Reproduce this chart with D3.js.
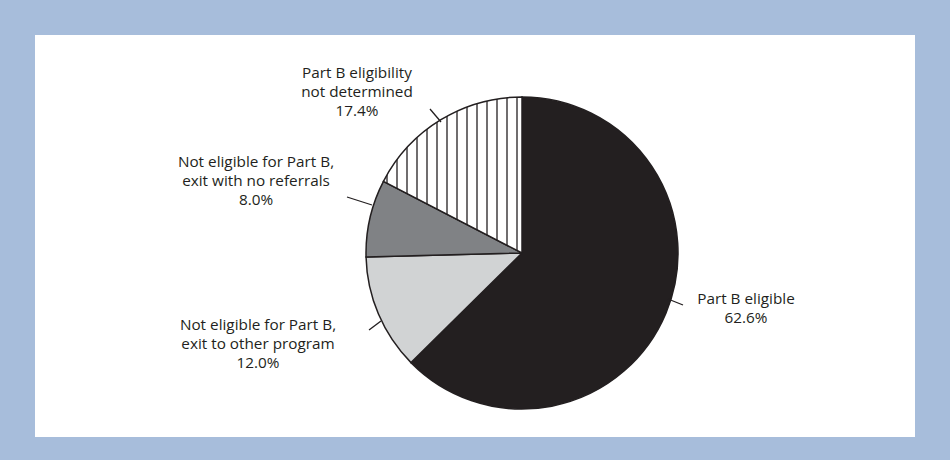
<!DOCTYPE html>
<html><head><meta charset="utf-8">
<script src="https://cdn.jsdelivr.net/npm/d3@7"></script>
<style>body{margin:0;background:#fff}</style>
</head><body>
<svg id="chart" width="950" height="460"></svg>
<script>
var categories = ["Part B eligible", "Not eligible for Part B, exit to other program", "Not eligible for Part B, exit with no referrals", "Part B eligibility not determined"];
var values = [62.6, 12.0, 8.0, 17.4];
var labels = [
  ["Part B eligible", "62.6%"],
  ["Not eligible for Part B,", "exit to other program", "12.0%"],
  ["Not eligible for Part B,", "exit with no referrals", "8.0%"],
  ["Part B eligibility", "not determined", "17.4%"]
];
var fills = ["#231f20", "#d1d3d4", "#808285", "url(#stripes)"];

var svg = d3.select("#chart");
svg.append("rect").attr("width", 950).attr("height", 460).attr("fill", "#a7bddb");
svg.append("rect").attr("x", 35).attr("y", 35).attr("width", 880).attr("height", 402).attr("fill", "#fff");

var defs = svg.append("defs");
var pat = defs.append("pattern").attr("id", "stripes").attr("patternUnits", "userSpaceOnUse")
  .attr("width", 10).attr("height", 10);
pat.append("rect").attr("width", 10).attr("height", 10).attr("fill", "#fff");
pat.append("line").attr("x1", 5).attr("x2", 5).attr("y1", 0).attr("y2", 10).attr("stroke", "#231f20").attr("stroke-width", 1.3);

var cx = 522, cy = 253, r = 156;
var pie = d3.pie().sort(null).value(d => d);
var arc = d3.arc().innerRadius(0).outerRadius(r);
var arcs = pie(values);
var g = svg.append("g").attr("transform", "translate(" + cx + "," + cy + ")");
g.selectAll("path").data(arcs).enter().append("path")
  .attr("d", arc).attr("fill", (d, i) => fills[i])
  .attr("stroke", "#231f20").attr("stroke-width", 1.5);

// label positions (anchor point) and leader lines
var lab = [
  {x: 746, y: 304, lines: [[683, 305], [668, 299]]},
  {x: 258, y: 330, lines: [[369, 330], [381, 321]]},
  {x: 256, y: 167, lines: [[347, 197], [372, 205]]},
  {x: 357, y: 78, lines: [[430, 109], [441, 122]]}
];
var fs = 15.3, lh = 19;
lab.forEach(function(l, i) {
  var t = svg.append("text").attr("text-anchor", "middle")
    .attr("font-family", "Open Sans, sans-serif").attr("font-size", fs).attr("fill", "#231f20");
  labels[i].forEach(function(s, k) {
    t.append("tspan").attr("x", l.x).attr("y", l.y + k * lh).text(s);
  });
  svg.append("line").attr("x1", l.lines[0][0]).attr("y1", l.lines[0][1])
    .attr("x2", l.lines[1][0]).attr("y2", l.lines[1][1])
    .attr("stroke", "#231f20").attr("stroke-width", 1.3);
});
</script>
</body></html>
